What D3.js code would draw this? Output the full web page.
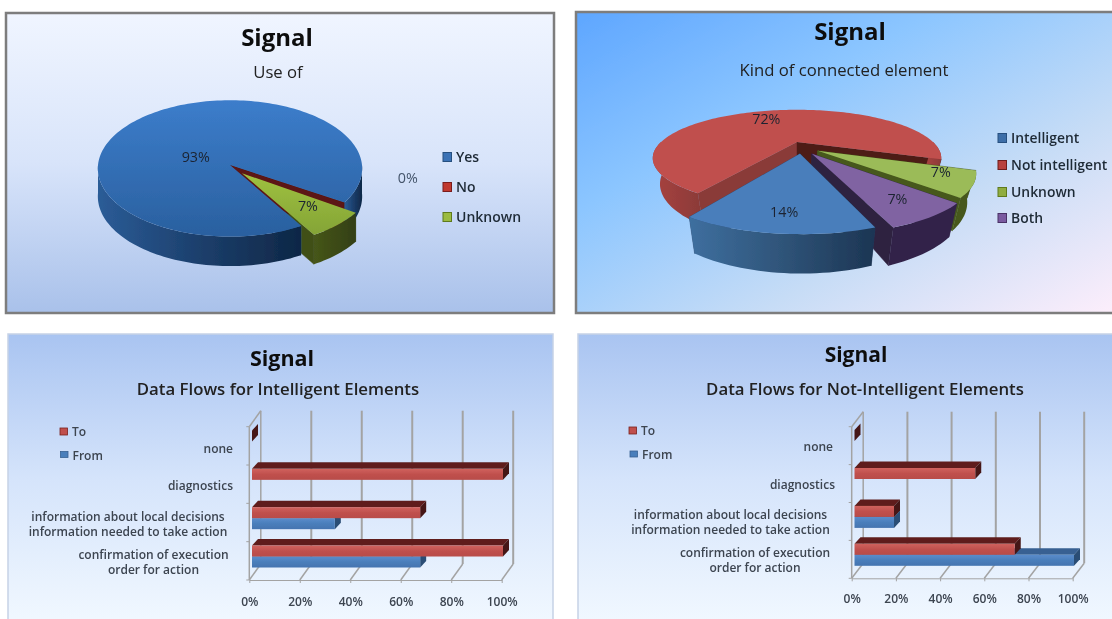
<!DOCTYPE html>
<html><head><meta charset="utf-8">
<script src="https://cdnjs.cloudflare.com/ajax/libs/d3/7.8.5/d3.min.js"></script>
<style>html,body{margin:0;padding:0;background:#fff;overflow:hidden}svg{display:block}text{font-family:"Open Sans",sans-serif}</style>
</head><body><svg id="c" width="1112" height="619"></svg>
<script>
// ---------- data ----------
const pie1Labels = ["Yes", "No", "Unknown"];
const pie1Values = [93, 0.4, 7];
const pie2Labels = ["Intelligent", "Not intelligent", "Unknown", "Both"];
const pie2Values = [14, 72, 7, 7];
const barCategories = [["confirmation of execution", "order for action"], ["information about local decisions", "information needed to take action"], ["diagnostics"], ["none"]];
const barIntelligentTo = [100, 67, 100, 0];
const barIntelligentFrom = [67, 33, null, null];
const barNotIntelligentTo = [73, 18, 55, 0];
const barNotIntelligentFrom = [100, 18, null, null];
const barTicks = [0, 20, 40, 60, 80, 100];
const barSeries = ["From", "To"];

// ---------- style / layout ----------
const svg = d3.select("#c");
const defs = svg.append("defs");
defs.append("filter").attr("id","soft").attr("filterUnits","userSpaceOnUse")
  .attr("x",0).attr("y",0).attr("width",1112).attr("height",619)
  .append("feGaussianBlur").attr("stdDeviation",0.7);
const root = svg.append("g").attr("filter","url(#soft)");
root.append("rect").attr("width",1112).attr("height",619).attr("fill","#fff");
let gid = 0;
function grad(stops, x2, y2){
  const id = "g"+(gid++);
  const g = defs.append("linearGradient").attr("id",id).attr("x1",0).attr("y1",0).attr("x2",x2).attr("y2",y2);
  stops.forEach((c,i)=>g.append("stop").attr("offset",i/(stops.length-1)).attr("stop-color",c));
  return "url(#"+id+")";
}
function panel(x,y,w,h,fill,stroke,sw){
  root.append("rect").attr("x",x).attr("y",y).attr("width",w).attr("height",h)
    .attr("fill",fill).attr("stroke",stroke).attr("stroke-width",sw);
}
function txt(x,y,s,size,weight,color,anchor){
  return root.append("text").attr("x",x).attr("y",y).attr("text-anchor",anchor||"middle")
    .attr("dominant-baseline","central").attr("font-size",size).attr("font-weight",weight).attr("fill",color).text(s);
}
panel(6,13,548,300,grad(["#f0f5ff","#d8e4fa","#a9c1ea"],0,1),"#7d7d7d",2.5);
panel(576,12,540,301,grad(["#5ea6ff","#8cc6ff","#c6dcf6","#fdeefb"],1,1),"#7d7d7d",2.5);
panel(8,334,545,290,grad(["#a9c4f1","#d5e4fb","#f1f8ff"],0,1),"#c6d2e6",1.5);
panel(578,334,540,290,grad(["#a9c4f1","#d5e4fb","#f1f8ff"],0,1),"#c6d2e6",1.5);

txt(277,36,"Signal",24,700,"#111");
txt(278,71,"Use of",16.7,400,"#222");
txt(850,30,"Signal",24,700,"#111");
txt(844,69,"Kind of connected element",16.7,400,"#222");
txt(282,357,"Signal",21.5,700,"#111");
txt(278,388,"Data Flows for Intelligent Elements",16.8,600,"#222");
txt(856,354,"Signal",21,700,"#111");
txt(865,388,"Data Flows for Not-Intelligent Elements",16.8,600,"#222");

// ---------- 3D pie ----------
function pie3d(cfg){
  const rad = d => d*Math.PI/180;
  const slices = d3.pie().sort(null).startAngle(rad(cfg.start)).endAngle(rad(cfg.start+360))(cfg.values);
  const proj = (a,r,ox,oy,down)=>{
    const X = r*Math.sin(a)+ox, Y = -r*Math.cos(a)+oy;
    const s = 1/(1-cfg.p*Y);
    return [cfg.cx+X*cfg.R*s*(down?cfg.k:1), cfg.cy+Y*cfg.Rq*s+(down?cfg.depth*s:0)];
  };
  const line = d3.line();
  const arcPts = (a0,a1,ox,oy,down)=>{
    const n = Math.max(2,Math.ceil(Math.abs(a1-a0)/0.03));
    return d3.range(n+1).map(i=>proj(a0+(a1-a0)*i/n,1,ox,oy,down));
  };
  const g = root.append("g");
  const wall = (i,a,fill)=>{
    const [ox,oy] = cfg.offset[i];
    g.append("path").attr("fill",fill).attr("stroke",fill).attr("stroke-width",.5).attr("d",line([
      proj(0,0,ox,oy,false),proj(a,1,ox,oy,false),proj(a,1,ox,oy,true),proj(0,0,ox,oy,true)])+"Z");
  };
  // an exploded slice whose walls pass under the neighbouring face has them painted first
  const walls = i => { wall(i,slices[i].startAngle,cfg.style[i].wallStart); wall(i,slices[i].endAngle,cfg.style[i].wallEnd); };
  cfg.wallsFirst.forEach(walls);
  cfg.order.forEach(i=>{
    const d = slices[i], [ox,oy] = cfg.offset[i], st = cfg.style[i];
    if(!cfg.wallsFirst.includes(i)) walls(i);
    [[rad(90),rad(270)],[rad(450),rad(630)]].forEach(([v0,v1])=>{
      const a0=Math.max(d.startAngle,v0), a1=Math.min(d.endAngle,v1);
      if(a1<=a0) return;
      const top=arcPts(a0,a1,ox,oy,false), bot=arcPts(a0,a1,ox,oy,true).reverse();
      g.append("path").attr("fill",st.side).attr("d",line(top.concat(bot))+"Z");
    });
    const pts=[proj(0,0,ox,oy,false)].concat(arcPts(d.startAngle,d.endAngle,ox,oy,false));
    g.append("path").attr("fill",st.top).attr("d",line(pts)+"Z");
  });
  slices.forEach((d,i)=>{
    const [ox,oy]=cfg.offset[i], [lr,nx,ny]=cfg.label[i];
    const p=proj((d.startAngle+d.endAngle)/2,lr,ox,oy,false);
    txt(p[0]+nx,p[1]+ny-1,Math.round(cfg.values[i])+"%",14.3,400,i===1&&cfg.grey?"#44546a":"#1c2430");
  });
  cfg.labels.forEach((s,i)=>{
    const y=cfg.legY[i];
    root.append("rect").attr("x",cfg.legX).attr("y",y-4.5).attr("width",8.5).attr("height",9)
      .attr("fill",cfg.legColor[i]).attr("stroke",cfg.legEdge[i]).attr("stroke-width",1);
    txt(cfg.legX+13,y-1,s,cfg.legSize,600,"#1f2a36","start");
  });
}
pie3d({values:pie1Values,labels:pie1Labels,start:149,cx:230,cy:165,R:132,Rq:68,p:.05,k:1,depth:28,grey:true,order:[1,0,2],wallsFirst:[2],
  offset:[[0,0],[0,0],[.09,.12]],
  label:[[.5,11,16],[1.35,23,-39],[.72,-2,-4]],
  style:[
   {top:grad(["#3c7dcb","#2a609f"],0,1),side:grad(["#2b5c97","#1c3f6c","#0e2746"],1,0),wallStart:"#2a609f",wallEnd:"#5c1512"},
   {top:"#741c18",side:"#0e2746",wallStart:"#4d1210",wallEnd:"#4d1210"},
   {top:grad(["#9fc140","#84a436"],0,1),side:grad(["#46561a","#333f12"],1,0),wallStart:"#333f12",wallEnd:"#414f17"}],
  legX:443,legY:[157,187,217],legSize:14,legColor:["#3a72b5","#c0392f","#9bbb3f"],legEdge:["#27507f","#7a1f1c","#5f7a1c"]});
pie3d({values:pie2Values,labels:pie2Labels,start:161,cx:797,cy:142,R:136,Rq:43,p:1/3,k:.95,depth:23,order:[1,2,3,0],wallsFirst:[],
  offset:[[.02,.25],[0,0],[.142,.19],[.1,.25]],
  label:[[.8,1,2],[.85,-1,5],[.75,13,-2],[.7,12,7]],
  style:[
   {top:"#4a7ebb",side:grad(["#3e6f9f","#2f5479","#1c3553"],1,0),wallStart:"#233c5c",wallEnd:"#2c4c74"},
   {top:"#c0504d",side:grad(["#a8423f","#8a3a38"],1,0),wallStart:"#8a3b38",wallEnd:"#4e1c18"},
   {top:"#9bbb59",side:"#46581c",wallStart:"#3f4f15",wallEnd:"#46581c"},
   {top:"#8064a2",side:"#33244a",wallStart:"#33244a",wallEnd:"#2f2140"}],
  legX:998,legY:[138,165,192,218],legSize:13.9,legColor:["#3d6ea8","#b8403c","#90ad3f","#7a5aa0"],legEdge:["#27507f","#6e1f1c","#5f7a1c","#4a3266"]});

// ---------- 3D bars ----------
function bars3d(cfg){
  const x = d3.scaleLinear().domain([0,100]).range([cfg.x0,cfg.x1]);
  const xBar = d3.scaleLinear().domain([0,100]).range([cfg.bar0,cfg.bar1]);
  const y = d3.scaleBand().domain(d3.range(barCategories.length)).range([cfg.yBase,cfg.yTop]);
  const inner = d3.scaleBand().domain(barSeries).range([-12.5,-34.5]);
  const g = root.append("g");
  const gridC = "#a3a3a3", dx=cfg.dx, dy=cfg.dy;
  barTicks.forEach(t=>{
    g.append("line").attr("x1",x(t)).attr("x2",x(t)+dx).attr("y1",cfg.yBase).attr("y2",cfg.yBase+dy).attr("stroke",gridC).attr("stroke-width",1.5);
    g.append("line").attr("x1",x(t)+dx).attr("x2",x(t)+dx).attr("y1",cfg.yBase+dy).attr("y2",cfg.yTop+dy).attr("stroke",gridC).attr("stroke-width",t?2:1.5);
  });
  g.append("line").attr("x1",cfg.x0).attr("x2",cfg.x0).attr("y1",cfg.yBase).attr("y2",cfg.yTop).attr("stroke",gridC).attr("stroke-width",1.5);
  g.append("line").attr("x1",cfg.x0).attr("x2",cfg.x0+dx).attr("y1",cfg.yTop).attr("y2",cfg.yTop+dy).attr("stroke",gridC).attr("stroke-width",1.5);
  d3.range(barCategories.length+1).forEach(i=>{
    const yy=cfg.yBase-i*y.step();
    g.append("line").attr("x1",cfg.x0-3).attr("x2",cfg.x0).attr("y1",yy).attr("y2",yy).attr("stroke",gridC);
  });
  const axis = d3.axisBottom(x).tickValues(barTicks).tickFormat(d=>d+"%").tickSize(3).tickSizeOuter(0);
  const ax = g.append("g").attr("transform","translate(0,"+cfg.yBase+")").call(axis);
  ax.select(".domain").attr("stroke",gridC);
  ax.selectAll(".tick line").attr("stroke",gridC);
  ax.selectAll(".tick text").attr("y",cfg.tickDy).attr("dy",0).attr("font-size",12).attr("font-weight",600)
    .attr("fill","#3c4450").attr("font-family","'Open Sans',sans-serif").attr("dominant-baseline","central");
  const L = d3.line();
  const draw=(vals,ser,c)=>{
    vals.forEach((v,i)=>{
      if(v===null) return;
      const yb=y(i)+y.bandwidth();
      const t=yb+inner(ser), b=t+inner.bandwidth();
      const l=xBar(0), r=xBar(v), ox=cfg.ox, oy=-6.5;
      g.append("path").attr("fill",c.top).attr("d",L([[l,t],[l+ox,t+oy],[r+ox,t+oy],[r,t]])+"Z");
      g.append("path").attr("fill",c.end).attr("d",L([[r,t],[r+ox,t+oy],[r+ox,b+oy],[r,b]])+"Z");
      g.append("rect").attr("x",l).attr("y",t).attr("width",r-l).attr("height",b-t).attr("fill",c.front);
    });
  };
  draw(cfg.from,"From",{top:"#376092",end:"#2a4d75",front:grad(["#5a8ccb","#4a7ebb","#4474b0"],0,1)});
  draw(cfg.to,"To",{top:"#5e1f1c",end:"#451614",front:grad(["#d0625e","#c0504d","#b84c49"],0,1)});
  barCategories.forEach((lines,i)=>{
    const rr=cfg.catPos[i];
    const ts=lines.map((s,j)=>txt(rr[0],rr[1]+j*rr[2],s,12,600,"#3c4450"));
    if(lines.length===1) ts[0].attr("text-anchor","end");
  });
  cfg.leg.forEach((l,i)=>{
    root.append("rect").attr("x",l[0]).attr("y",l[1]-3.5).attr("width",7.5).attr("height",l[2]).attr("fill",l[3]).attr("stroke",l[4]).attr("stroke-width",.8);
    txt(l[0]+12,l[1],l[5],12,600,"#3c4450","start");
  });
}
bars3d({to:barIntelligentTo,from:barIntelligentFrom,x0:249.3,x1:501.7,bar0:252,bar1:503,yBase:580,yTop:426.7,dx:11.5,dy:-16,ox:6,tickDy:21,
  catPos:[[153.5,554,15.5],[128,516,15.5],[233,485,0],[233,448,0]],
  leg:[[60,431.5,7,"#c0504d","#7a1f1c","To"],[60.5,455,6,"#4a7ebb","#376092","From"]]});
bars3d({to:barNotIntelligentTo,from:barNotIntelligentFrom,x0:851.7,x1:1072.7,bar0:854.5,bar1:1074,yBase:578.3,yTop:426.7,dx:11.5,dy:-15,ox:6,tickDy:20.5,
  catPos:[[755,552,15.5],[730.5,514,15.5],[835,484,0],[833,446,0]],
  leg:[[629,430.5,7,"#c0504d","#7a1f1c","To"],[630,454.5,6,"#4a7ebb","#376092","From"]]});
</script></body></html>
